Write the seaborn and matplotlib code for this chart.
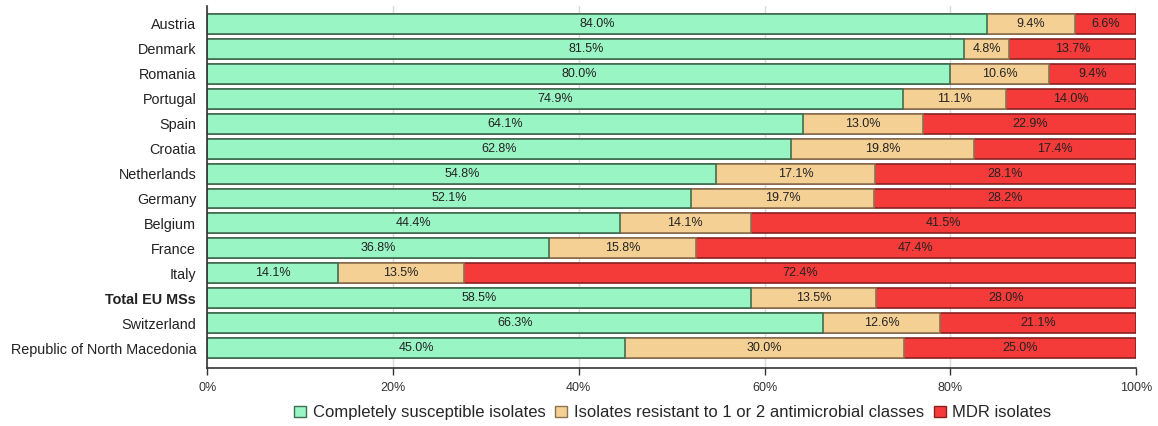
import numpy as np
import pandas as pd
import seaborn as sns
from matplotlib import pyplot as plt
from matplotlib.patches import Patch

sns.set_style("white")
plt.rcParams['font.family'] = ['Liberation Sans', 'DejaVu Sans']

countries = ["Austria", "Denmark", "Romania", "Portugal", "Spain", "Croatia",
             "Netherlands", "Germany", "Belgium", "France", "Italy",
             "Total EU MSs", "Switzerland", "Republic of North Macedonia"]
susceptible = [84.0, 81.5, 80.0, 74.9, 64.1, 62.8, 54.8, 52.1, 44.4, 36.8, 14.1, 58.5, 66.3, 45.0]
resistant_1_2 = [9.4, 4.8, 10.6, 11.1, 13.0, 19.8, 17.1, 19.7, 14.1, 15.8, 13.5, 13.5, 12.6, 30.0]
mdr = [6.6, 13.7, 9.4, 14.0, 22.9, 17.4, 28.1, 28.2, 41.5, 47.4, 72.4, 28.0, 21.1, 25.0]
series_names = ["Completely susceptible isolates",
                "Isolates resistant to 1 or 2 antimicrobial classes",
                "MDR isolates"]

face_colors = ["#9af5c4", "#f5d095", "#f53a3a"]
edge_colors = ["#3d6e52", "#8a7350", "#8a2020"]

df = pd.DataFrame({"country": countries, "s": susceptible, "r": resistant_1_2, "m": mdr})
df["c1"] = df["s"]
df["c2"] = df["s"] + df["r"]
df["c3"] = df["s"] + df["r"] + df["m"]

fig = plt.figure(figsize=(11.58, 4.26), dpi=100)
ax = fig.add_axes([0.179, 0.136, 0.802, 0.85])

# stacked bars: draw the cumulative totals back to front
for col, fc, ec in [("c3", face_colors[2], edge_colors[2]),
                    ("c2", face_colors[1], edge_colors[1]),
                    ("c1", face_colors[0], edge_colors[0])]:
    sns.barplot(data=df, x=col, y="country", orient="h", color=fc,
                edgecolor=ec, linewidth=1.2, width=0.8, saturation=1, ax=ax)

# segment labels
for i, row in df.iterrows():
    starts = [0, row["c1"], row["c2"]]
    vals = [row["s"], row["r"], row["m"]]
    for st, v in zip(starts, vals):
        ax.text(st + v / 2, i, f"{v:.1f}%", ha="center", va="center",
                fontsize=9, color="#222222")

ax.set_xlim(0, 100)
ax.set_ylim(13.8, -0.72)
ax.set_xticks([0, 20, 40, 60, 80, 100])
ax.set_xticklabels(["0%", "20%", "40%", "60%", "80%", "100%"], fontsize=9, color="#333333")
ax.set_xlabel("")
ax.set_ylabel("")
ax.tick_params(axis="y", length=0, labelsize=10.4, pad=8)
ax.tick_params(axis="x", length=5, width=1, color="#333333", direction="out", bottom=True, pad=5)
ax.xaxis.grid(True, color="#d9d9d9", linewidth=1)
ax.set_axisbelow(True)
for sp in ["top", "right"]:
    ax.spines[sp].set_visible(False)
for sp in ["left", "bottom"]:
    ax.spines[sp].set_color("#333333")
    ax.spines[sp].set_linewidth(1.2)

for lbl in ax.get_yticklabels():
    lbl.set_color("#222222")
    if lbl.get_text() == "Total EU MSs":
        lbl.set_fontweight("bold")

handles = [Patch(facecolor=fc, edgecolor=ec, label=n)
           for fc, ec, n in zip(face_colors, edge_colors, series_names)]
fig.legend(handles=handles, loc="lower center", bbox_to_anchor=(0.581, -0.022),
           ncol=3, frameon=False, fontsize=12, handlelength=0.7, handleheight=0.7,
           handletextpad=0.4, columnspacing=0.6)

plt.savefig("out.png", dpi=100)
